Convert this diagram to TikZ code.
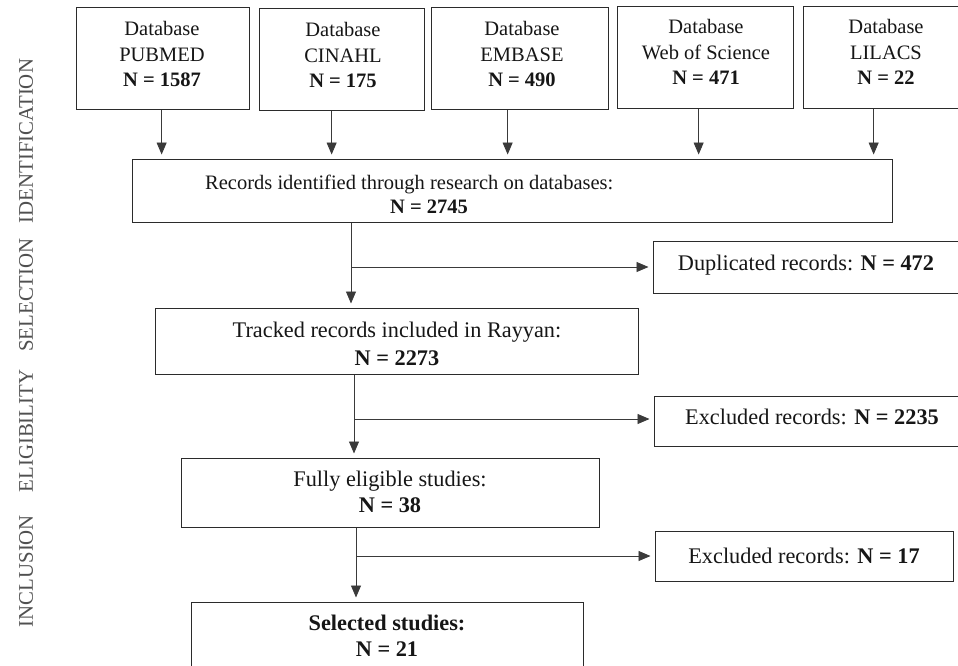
\documentclass[tikz,border=0pt]{standalone}
\usepackage{fontspec}
\setmainfont{Liberation Serif}
\usetikzlibrary{arrows.meta}
\definecolor{boxc}{HTML}{2B2B2B}
\definecolor{linec}{HTML}{3A3A3A}
\definecolor{sidec}{HTML}{505050}
\definecolor{txtc}{HTML}{161616}
\begin{document}
\begin{tikzpicture}[x=1pt,y=-1pt,
  box/.style={draw=boxc,line width=1.3pt,rectangle,inner sep=0pt,anchor=north west},
  txt/.style={font=\fontsize{20.5}{25.5}\selectfont,align=center,inner sep=0pt,text=txtc},
  bigtxt/.style={font=\fontsize{22.3}{25.5}\selectfont,align=center,inner sep=0pt,text=txtc},
  side/.style={font=\fontsize{20.8}{24}\selectfont,rotate=90,inner sep=0pt,text=sidec},
  arr/.style={draw=linec,line width=0.9pt,-{Triangle[width=10pt,length=12pt]},shorten >=4.5pt}]
\path[fill=white,use as bounding box] (0,0) rectangle (958,665);

% side labels
\node[side] (s1) at (26,141) {IDENTIFICATION};
\node[side] (s2) at (26,295) {SELECTION};
\node[side] (s3) at (26,431) {ELIGIBILITY};
\node[side] (s4) at (26,571) {INCLUSION};

% database boxes
\node[box,minimum width=173pt,minimum height=102pt] (db1) at (76,7) {};
\node[box,minimum width=165pt,minimum height=102pt] (db2) at (259,8) {};
\node[box,minimum width=177pt,minimum height=102pt] (db3) at (431,7) {};
\node[box,minimum width=176pt,minimum height=102pt] (db4) at (617,6) {};
\node[box,minimum width=172pt,minimum height=102pt] (db5) at (803,6) {};

\node[txt] (t1) at (162,54) {Database\\PUBMED\\\textbf{N = 1587}};
\node[txt] (t2) at (343,55) {Database\\CINAHL\\\textbf{N = 175}};
\node[txt] (t3) at (522,54) {Database\\EMBASE\\\textbf{N = 490}};
\node[txt] (t4) at (706,52) {Database\\Web of Science\\\textbf{N = 471}};
\node[txt] (t5) at (886,52) {Database\\LILACS\\\textbf{N = 22}};

% main flow boxes
\node[box,minimum width=760pt,minimum height=63pt] (rec) at (132,159) {};
\node[txt,anchor=base west] (rt1) at (205,189) {Records identified through research on databases:};
\node[txt,anchor=base west] (rt2) at (390,213) {\textbf{N = 2745}};

\node[box,minimum width=483pt,minimum height=66pt] (trk) at (155,308) {};
\node[bigtxt] (tt) at (397,343.5) {Tracked records included in Rayyan:\\[2.5pt]\textbf{N = 2273}};

\node[box,minimum width=418pt,minimum height=69pt] (ful) at (181,458) {};
\node[bigtxt] (ft) at (390,492) {Fully eligible studies:\\\textbf{N = 38}};

\node[box,minimum width=392pt,minimum height=75pt] (sel) at (191,602) {};
\node[bigtxt] (st) at (387,636) {\textbf{Selected studies:}\\\textbf{N = 21}};

% exclusion boxes
\node[box,minimum width=310pt,minimum height=52pt] (dup) at (653,241) {};
\node[bigtxt,anchor=base] (dt) at (806,270) {Duplicated records: \textbf{N = 472}};

\node[box,minimum width=320pt,minimum height=50pt] (ex1) at (654,396) {};
\node[bigtxt,anchor=base] (e1t) at (812,424.5) {Excluded records: \textbf{N = 2235}};

\node[box,minimum width=298pt,minimum height=50pt] (ex2) at (655,531) {};
\node[bigtxt,anchor=base] (e2t) at (804,563.5) {Excluded records: \textbf{N = 17}};

% arrows from databases
\draw[arr] ([xshift=-1.5pt]db1.south) -- ([xshift=-1.5pt]db1.south |- rec.north);
\draw[arr] ([xshift=-10.5pt]db2.south) -- ([xshift=-10.5pt]db2.south |- rec.north);
\draw[arr] ([xshift=-12.5pt]db3.south) -- ([xshift=-12.5pt]db3.south |- rec.north);
\draw[arr] ([xshift=-7pt]db4.south) -- ([xshift=-7pt]db4.south |- rec.north);
\draw[arr] ([xshift=-16pt]db5.south) -- ([xshift=-16pt]db5.south |- rec.north);

% trunks and branches
\coordinate (j1) at (351,267);
\coordinate (j2) at (354,419);
\coordinate (j3) at (356,556);

\draw[arr] (rec.south -| j1) -- (trk.north -| j1);
\draw[arr] (j1) -- (j1 -| dup.west);

\draw[arr] (trk.south -| j2) -- (ful.north -| j2);
\draw[arr] (j2) -- (j2 -| ex1.west);

\draw[arr] (ful.south -| j3) -- (sel.north -| j3);
\draw[arr] (j3) -- (j3 -| ex2.west);
\end{tikzpicture}
\end{document}
